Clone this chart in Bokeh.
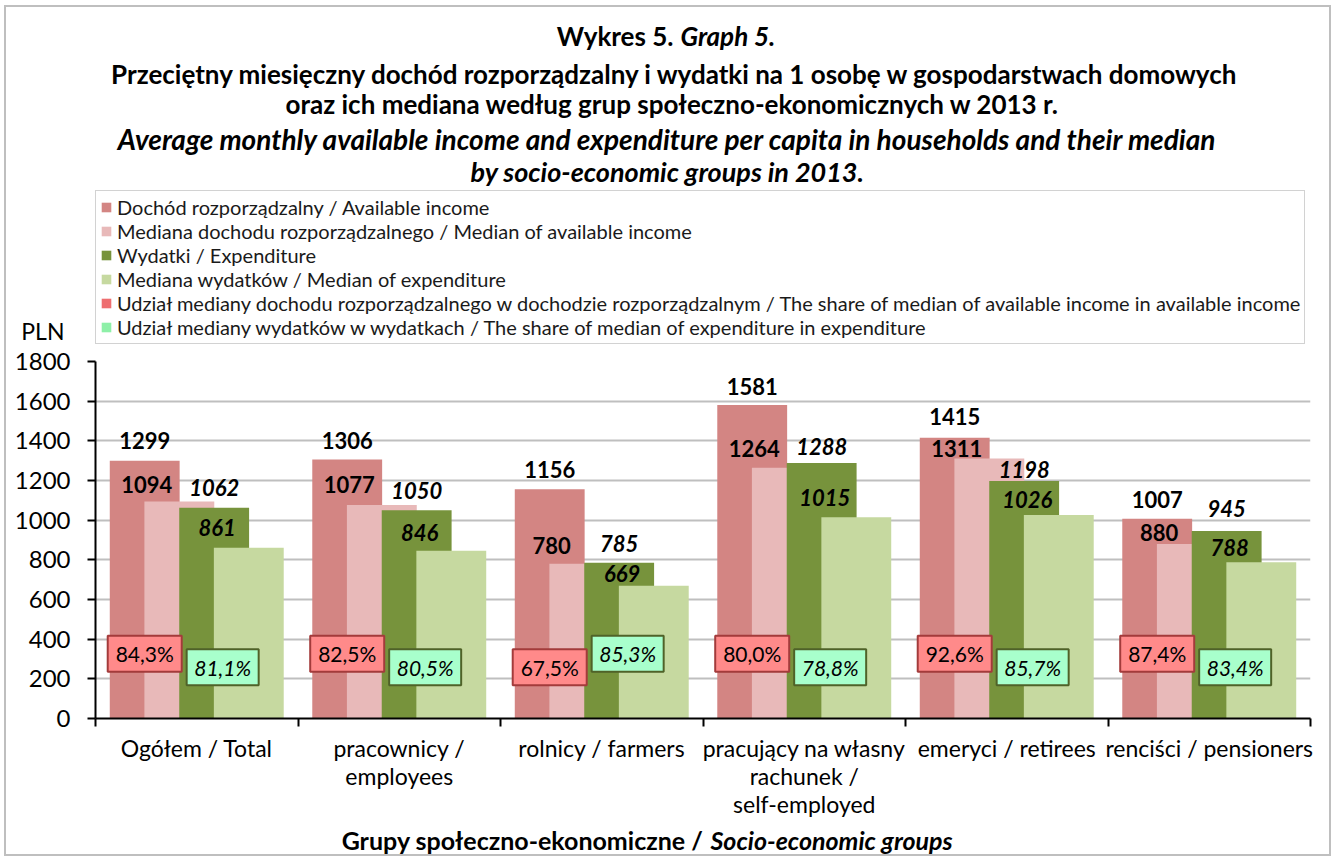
from bokeh.plotting import figure
from bokeh.layouts import column
from bokeh.models import (ColumnDataSource, Range1d, FixedTicker, Legend, LegendItem)
from bokeh.core.properties import value
from bokeh.embed import file_html
from bokeh.resources import INLINE

# ---------------- data ----------------
categories = ["Ogółem / Total", "pracownicy /\nemployees", "rolnicy / farmers",
              "pracujący na własny\nrachunek /\nself-employed", "emeryci / retirees",
              "renciści / pensioners"]
income = [1299, 1306, 1156, 1581, 1415, 1007]
income_median = [1094, 1077, 780, 1264, 1311, 880]
expenditure = [1062, 1050, 785, 1288, 1198, 945]
expenditure_median = [861, 846, 669, 1015, 1026, 788]
share_income = [84.3, 82.5, 67.5, 80.0, 92.6, 87.4]
share_expenditure = [81.1, 80.5, 85.3, 78.8, 85.7, 83.4]
y_ticks = [0, 200, 400, 600, 800, 1000, 1200, 1400, 1600, 1800]
series_names = [
    "Dochód rozporządzalny / Available income",
    "Mediana dochodu rozporządzalnego / Median of available income",
    "Wydatki / Expenditure",
    "Mediana wydatków / Median of expenditure",
    "Udział mediany dochodu rozporządzalnego w dochodzie rozporządzalnym / The share of median of available income in available income",
    "Udział mediany wydatków w wydatkach / The share of median of expenditure in expenditure",
]
title_lines = [
    "Przeciętny miesięczny dochód rozporządzalny i wydatki na 1 osobę w gospodarstwach domowych",
    "oraz ich mediana według grup społeczno-ekonomicznych w 2013 r.",
    "Average monthly available income and expenditure per capita in households and their median",
    "by socio-economic groups in 2013.",
]
unit_label = "PLN"

# ---------------- style / layout ----------------
FONT = "Lato"
C_INC = "#D38583"
C_INC_MED = "#E8B9B9"
C_EXP = "#77933C"
C_EXP_MED = "#C6D9A0"
C_SH_INC = "#EE6E70"
C_SH_EXP = "#8EF0A8"

W = 1323
BL, BR = 89, 19               # left / right borders of the plotting frame
FW = W - BL - BR              # frame width (shared by all stacked figures)
FH = 357                      # frame height of the main chart
MT, MB = 16, 106              # main chart top / bottom borders
H_HEAD, H_FOOT = 338, 30
H_MAIN = MT + FH + MB

# label lift above bar tops (pixels), as placed in the original
lift = [[20, 19, 20, 18, 21, 19],
        [17, 20, 18, 19, 10, 11],
        [20, 20, 19, 17, 11, 23],
        [20, 18, 12, 20, 16, 15]]


def htext(fig, text, x, y, align="center", style="normal", size="21px"):
    fig.text(x=[x], y=[y], text=[text], text_align=align, text_baseline="middle",
             text_font=value(FONT), text_font_style=style, text_font_size=size,
             text_color="black")


# ---------------- header (titles + legend + unit) ----------------
head = figure(width=W, height=H_HEAD, output_backend="svg", toolbar_location=None,
              x_range=Range1d(0, FW), y_range=Range1d(H_HEAD, 0),
              x_axis_type=None, min_border_left=BL, min_border_right=BR,
              min_border_top=0, min_border_bottom=0)
head.outline_line_color = None
head.xgrid.visible = False
head.ygrid.visible = False
hy = head.yaxis[0]
hy.ticker = FixedTicker(ticks=[H_HEAD - 13])
hy.major_label_overrides = {H_HEAD - 13: unit_label}
hy.axis_line_color = None
hy.major_tick_line_color = None
hy.minor_tick_line_color = None
hy.major_tick_out = 0
hy.major_label_standoff = 31
hy.major_label_text_font = FONT
hy.major_label_text_font_size = "23px"
hy.major_label_text_color = "black"

htext(head, "Wykres 5.", 578, 28, align="right", style="bold", size="26px")
htext(head, "Graph 5.", 585, 28, align="left", style="bold italic", size="26px")
htext(head, title_lines[0], 580, 66, style="bold", size="26px")
htext(head, title_lines[1], 577, 96, style="bold", size="26px")
htext(head, title_lines[2], 572, 131, style="bold italic", size="28px")
htext(head, title_lines[3], 572, 164, style="bold italic", size="27px")

legend_colors = [C_INC, C_INC_MED, C_EXP, C_EXP_MED, C_SH_INC, C_SH_EXP]
dummy = []
for c in legend_colors:
    src = ColumnDataSource(dict(x=[-1000.0], top=[-1000.0]))
    dummy.append(head.vbar(x="x", top="top", width=1, source=src, fill_color=c, line_color=None))
legend = Legend(items=[LegendItem(label=series_names[k], renderers=[dummy[k]]) for k in range(6)],
                location=(0, 1), orientation="vertical",
                label_text_font=FONT, label_text_font_size="20px", label_text_color="#1A1A1A",
                glyph_width=12, glyph_height=12, label_standoff=5, spacing=0, label_height=20,
                padding=4, margin=0, border_line_color="#A6A6A6", border_line_width=1,
                background_fill_color="white", background_fill_alpha=1.0)
head.add_layout(legend, "center")

# ---------------- main chart ----------------
p = figure(width=W, height=H_MAIN, output_backend="svg", toolbar_location=None,
           x_range=Range1d(0, 6), y_range=Range1d(0, 1800),
           min_border_left=BL, min_border_right=BR, min_border_top=MT,
           min_border_bottom=MB)
p.outline_line_color = None

n = len(categories)
offsets = [-0.257, -0.086, 0.086, 0.257]
bw = 0.345
series = [income, income_median, expenditure, expenditure_median]
colors = [C_INC, C_INC_MED, C_EXP, C_EXP_MED]
for k in range(4):
    src = ColumnDataSource(dict(x=[i + 0.5 + offsets[k] for i in range(n)], top=series[k]))
    p.vbar(x="x", top="top", width=bw, source=src, fill_color=colors[k], line_color=None)

# value labels
lab_x = [offsets[0], offsets[0] + 0.01, offsets[2], offsets[2] + 0.015]
lab_style = ["bold", "bold", "bold italic", "bold italic"]
for k in range(4):
    src = ColumnDataSource(dict(x=[i + 0.5 + lab_x[k] for i in range(n)], y=series[k],
                                t=[str(v) for v in series[k]], dy=[-d for d in lift[k]]))
    p.text(x="x", y="y", text="t", source=src, text_align="center", text_baseline="middle",
           y_offset="dy", text_font=value(FONT), text_font_style=lab_style[k],
           text_font_size="22px", text_color="black")

# share boxes
HI, LO = 327, 258
red_y = [HI if a >= b else LO for a, b in zip(share_income, share_expenditure)]
grn_y = [LO if a >= b else HI for a, b in zip(share_income, share_expenditure)]
red_src = ColumnDataSource(dict(x=[i + 0.5 + offsets[0] for i in range(n)], y=red_y,
                                t=[f"{v:.1f}%".replace(".", ",") for v in share_income]))
grn_src = ColumnDataSource(dict(x=[i + 0.5 + 0.128 for i in range(n)], y=grn_y,
                                t=[f"{v:.1f}%".replace(".", ",") for v in share_expenditure]))
p.rect(x="x", y="y", width=74, height=36, width_units="screen", height_units="screen",
       source=red_src, fill_color="#FF8A8A", line_color="#A33B3B", line_width=2)
p.text(x="x", y="y", text="t", source=red_src, text_align="center", text_baseline="middle",
       text_font=value(FONT), text_font_size="21px", text_color="black")
p.rect(x="x", y="y", width=72, height=36, width_units="screen", height_units="screen",
       source=grn_src, fill_color="#A8FFCC", line_color="#4F6228", line_width=2)
p.text(x="x", y="y", text="t", source=grn_src, text_align="center", text_baseline="middle",
       text_font=value(FONT), text_font_style="italic", text_font_size="21px",
       text_color="black")

# axes
p.xgrid.visible = False
p.ygrid.grid_line_color = "#BFBFBF"
p.ygrid.grid_line_width = 2
p.ygrid.ticker = FixedTicker(ticks=y_ticks)

xa = p.xaxis[0]
xa.ticker = FixedTicker(ticks=[i + 0.5 for i in range(n)], minor_ticks=list(range(n + 1)))
xa.major_label_overrides = {i + 0.5: categories[i] for i in range(n)}
xa.major_tick_out = 0
xa.major_tick_in = 0
xa.minor_tick_out = 8
xa.minor_tick_in = 0
xa.minor_tick_line_color = "black"
xa.minor_tick_line_width = 2
xa.axis_line_color = "black"
xa.axis_line_width = 2
xa.major_label_standoff = 7
xa.major_label_text_font = FONT
xa.major_label_text_font_size = "23px"
xa.major_label_text_color = "black"
xa.major_label_text_line_height = 1.0

ya = p.yaxis[0]
ya.ticker = FixedTicker(ticks=y_ticks)
ya.major_tick_out = 8
ya.major_tick_in = 0
ya.major_tick_line_color = "black"
ya.major_tick_line_width = 2
ya.minor_tick_out = 0
ya.minor_tick_in = 0
ya.axis_line_color = "black"
ya.axis_line_width = 2
ya.major_label_standoff = 17
ya.major_label_text_font = FONT
ya.major_label_text_font_size = "24px"
ya.major_label_text_color = "black"

# ---------------- footer (axis title) ----------------
foot = figure(width=W, height=H_FOOT, output_backend="svg", toolbar_location=None,
              x_range=Range1d(0, FW), y_range=Range1d(H_FOOT, 0),
              x_axis_type=None, y_axis_type=None, min_border_left=BL, min_border_right=BR,
              min_border_top=0, min_border_bottom=0)
foot.outline_line_color = None
foot.xgrid.visible = False
foot.ygrid.visible = False
htext(foot, "Grupy społeczno-ekonomiczne /", 608, 15, align="right", style="bold", size="25px")
htext(foot, "Socio-economic groups", 615, 15, align="left", style="bold italic", size="25px")

layout = column(head, p, foot, spacing=0, margin=(5, 0, 0, 4),
                styles={"border": "2px solid #BFBFBF", "background-color": "white"})

open("out.html", "w").write(file_html(layout, INLINE))
